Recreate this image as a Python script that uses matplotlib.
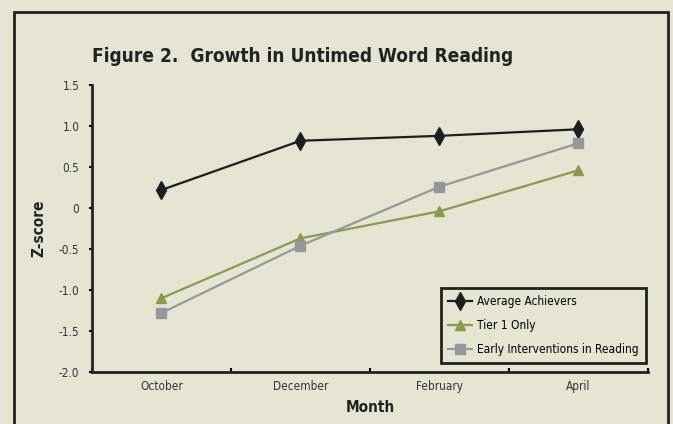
import matplotlib.pyplot as plt
from matplotlib.patches import Rectangle

months = ['October', 'December', 'February', 'April']
avg_achievers = [0.22, 0.82, 0.88, 0.96]
tier1_only = [-1.10, -0.37, -0.04, 0.46]
early_interv = [-1.28, -0.46, 0.26, 0.79]
yticks = [-2.0, -1.5, -1.0, -0.5, 0, 0.5, 1.0, 1.5]
ytick_labels = ['-2.0', '-1.5', '-1.0', '-0.5', '0', '0.5', '1.0', '1.5']

bg = '#e4e6d3'
plt.rcParams['font.family'] = ['DejaVu Sans']
plt.rcParams['font.stretch'] = 'condensed'

fig = plt.figure(figsize=(6.73, 4.24), dpi=100)
fig.patch.set_facecolor(bg)
ax = fig.add_axes([92/673, 52/424, 556/673, 287/424])
ax.set_facecolor(bg)

# outer frame (open at the bottom)
fig.patches.append(Rectangle((14/673, -0.05), 654/673, 1.05 - 12/424, transform=fig.transFigure,
                             fill=False, edgecolor='#222222', linewidth=2, clip_on=False))

x = range(len(months))
ax.plot(x, avg_achievers, color='#1e1e1e', lw=1.6, marker='d', ms=9, label='Average Achievers')
ax.plot(x, tier1_only, color='#8d9a4a', lw=1.6, marker='^', ms=7, label='Tier 1 Only')
ax.plot(x, early_interv, color='#97979b', lw=1.6, marker='s', ms=6.5, label='Early Interventions in Reading')

ax.set_xlim(-0.5, 3.5)
ax.set_ylim(-2.0, 1.5)
ax.set_xticks(x)
ax.set_xticklabels(months, fontsize=8.5, color='#333333')
ax.set_xticks([-0.5, 0.5, 1.5, 2.5, 3.5], minor=True)
ax.tick_params(axis='x', which='major', length=0, pad=6)
ax.tick_params(axis='x', which='minor', length=3, direction='in', width=1.5)
ax.set_yticks(yticks)
ax.set_yticklabels(ytick_labels, fontsize=8.5, color='#333333')
ax.tick_params(axis='y', length=2, width=1.5, pad=7)

for s in ['top', 'right']:
    ax.spines[s].set_visible(False)
for s in ['left', 'bottom']:
    ax.spines[s].set_linewidth(2)
    ax.spines[s].set_color('#222222')

ax.set_xlabel('Month', fontsize=11, fontweight='bold', color='#222222', labelpad=5)
ax.set_ylabel('Z-score', fontsize=11, fontweight='bold', color='#222222', labelpad=9)

fig.text(92/673, 1 - 57/424, 'Figure 2.  Growth in Untimed Word Reading', fontsize=13.7,
         fontweight='bold', color='#222222', va='center', ha='left')

leg = ax.legend(loc='lower right', bbox_to_anchor=(0.996, 0.031), borderaxespad=0,
                fontsize=8.6, frameon=True, fancybox=False, edgecolor='#222222',
                facecolor=bg, framealpha=1, handlelength=2.0, borderpad=0.6,
                labelspacing=0.9, handletextpad=0.4)
leg.get_frame().set_linewidth(2)

fig.savefig('out.png', dpi=100, facecolor=bg)
